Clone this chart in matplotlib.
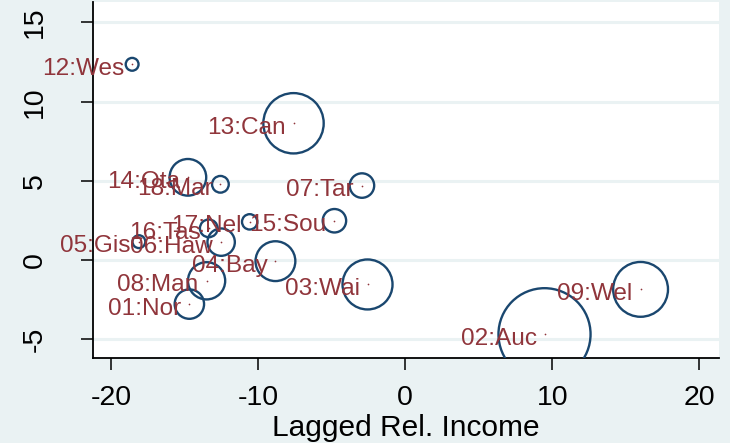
import matplotlib
matplotlib.use("Agg")
import matplotlib.pyplot as plt

# Data
labels = ["01:Nor", "02:Auc", "03:Wai", "04:Bay", "05:Gis", "06:Haw", "07:Tar", "08:Man",
          "09:Wel", "12:Wes", "13:Can", "14:Ota", "15:Sou", "16:Tas", "17:Nel", "18:Mar"]
lagged_rel_income = [-14.67, 9.47, -2.56, -8.82, -18.10, -12.51, -2.94, -13.50,
                     16.00, -18.56, -7.59, -14.77, -4.81, -13.35, -10.57, -12.56]
outcome = [-2.77, -4.67, -1.53, -0.06, 1.17, 1.14, 4.71, -1.30,
           -1.84, 12.36, 8.64, 5.23, 2.49, 2.01, 2.42, 4.79]
weight = [121, 1188, 350, 222, 23, 105, 84, 194,
          421, 23, 510, 188, 77, 44, 33, 39]

xticks = [-20, -10, 0, 10, 20]
yticks = [-5, 0, 5, 10, 15]

BG = "#eaf2f3"
NAVY = "#1a476f"
MAROON = "#90353b"

plt.rcParams["font.family"] = ["Liberation Sans", "DejaVu Sans"]

fig = plt.figure(figsize=(7.3, 4.43), dpi=100, facecolor=BG)
ax = fig.add_axes([93 / 730, (443 - 358) / 443, (719 - 93) / 730, (358 - 2.5) / 443])
ax.set_facecolor("white")

ax.set_xlim(-21.22, 21.33)
ax.set_ylim(-6.17, 16.26)

for yv in yticks:
    ax.axhline(yv, color=BG, lw=2.2, zorder=0)

sizes = [w * 3.7 for w in weight]
ax.scatter(lagged_rel_income, outcome, s=sizes, facecolors="none",
           edgecolors=NAVY, linewidths=1.7, zorder=3)
ax.scatter(lagged_rel_income, outcome, s=1.5, color=MAROON, marker="o",
           linewidths=0, zorder=4)
for lab, xv, yv in zip(labels, lagged_rel_income, outcome):
    ax.annotate(lab, (xv, yv), xytext=(-8, -4.5), textcoords="offset pixels",
                ha="right", va="center", fontsize=17.6, color=MAROON, zorder=5)

for s in ["top", "right"]:
    ax.spines[s].set_visible(False)
for s in ["left", "bottom"]:
    ax.spines[s].set_linewidth(1.3)
    ax.spines[s].set_color("black")

ax.set_xticks(xticks)
ax.set_yticks(yticks)
ax.set_xticklabels([str(v) for v in xticks])
ax.set_yticklabels([str(v) for v in yticks], rotation=90, va="center")
ax.tick_params(axis="both", length=8.5, width=1.1, labelsize=20.5)
ax.tick_params(axis="x", pad=11)
ax.tick_params(axis="y", pad=24)

ax.set_xlabel("Lagged Rel. Income", fontsize=21.5, labelpad=2)

fig.savefig("out.png", dpi=100, facecolor=BG)
